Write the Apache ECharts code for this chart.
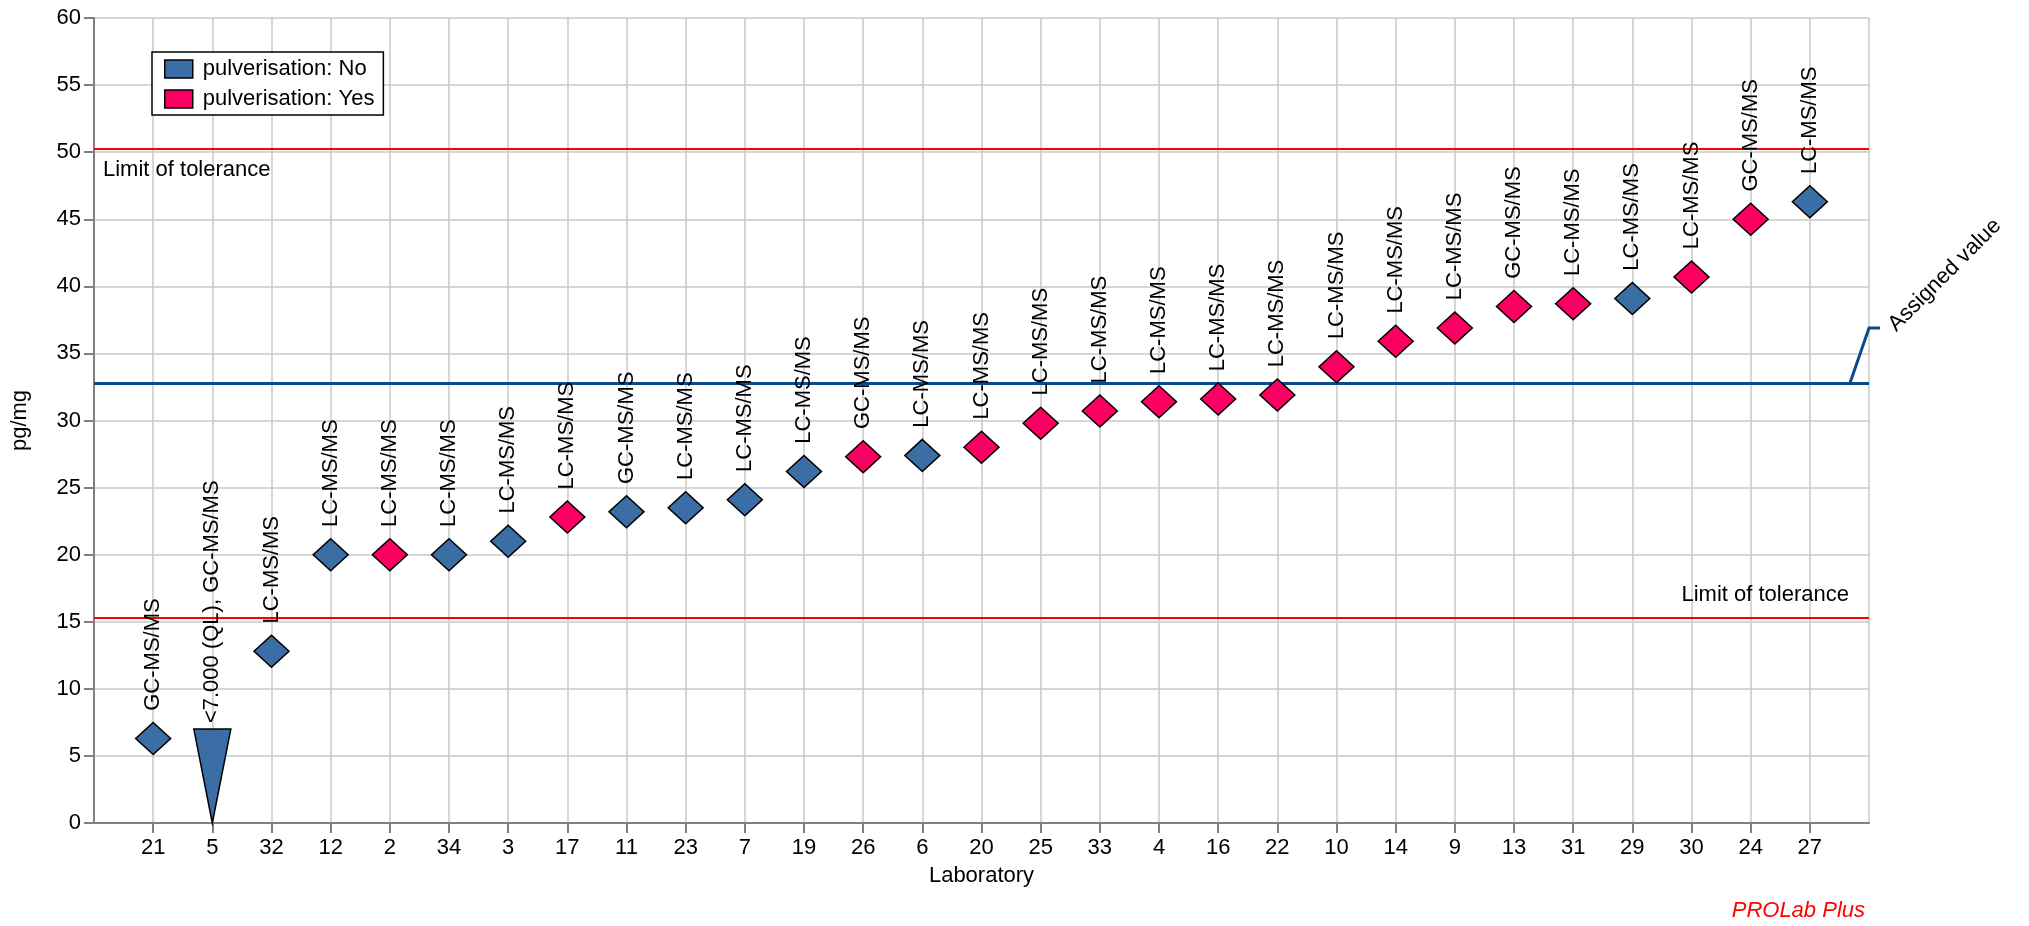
<!DOCTYPE html>
<html>
<head>
<meta charset="utf-8">
<title>Laboratory results</title>
<script src="https://cdn.jsdelivr.net/npm/echarts@6/dist/echarts.min.js"></script>
<style>
  html, body { margin: 0; padding: 0; background: #fff; }
  #chart { width: 2029px; height: 926px; }
</style>
</head>
<body>
<div id="chart"></div>
<script>
// Laboratory codes, in ascending order of result
const labs = ['21', '5', '32', '12', '2', '34', '3', '17', '11', '23', '7', '19', '26', '6', '20',
              '25', '33', '4', '16', '22', '10', '14', '9', '13', '31', '29', '30', '24', '27'];
// Reported results (pg/mg)
const results = [6.3, 7.0, 12.8, 20.0, 20.0, 20.0, 21.0, 22.8, 23.2, 23.5, 24.1, 26.2, 27.3, 27.4, 28.0,
                 29.8, 30.7, 31.4, 31.6, 31.9, 34.0, 35.9, 36.9, 38.5, 38.7, 39.1, 40.7, 45.0, 46.3];
// Analytical method of each laboratory
const methods = ['GC-MS/MS', 'GC-MS/MS', 'LC-MS/MS', 'LC-MS/MS', 'LC-MS/MS', 'LC-MS/MS', 'LC-MS/MS',
                 'LC-MS/MS', 'GC-MS/MS', 'LC-MS/MS', 'LC-MS/MS', 'LC-MS/MS', 'GC-MS/MS', 'LC-MS/MS',
                 'LC-MS/MS', 'LC-MS/MS', 'LC-MS/MS', 'LC-MS/MS', 'LC-MS/MS', 'LC-MS/MS', 'LC-MS/MS',
                 'LC-MS/MS', 'LC-MS/MS', 'GC-MS/MS', 'LC-MS/MS', 'LC-MS/MS', 'LC-MS/MS', 'GC-MS/MS',
                 'LC-MS/MS'];
// Sample pulverisation
const pulverisation = ['No', 'No', 'No', 'No', 'Yes', 'No', 'No', 'Yes', 'No', 'No', 'No', 'No', 'Yes', 'No',
                       'Yes', 'Yes', 'Yes', 'Yes', 'Yes', 'Yes', 'Yes', 'Yes', 'Yes', 'Yes', 'Yes', 'No',
                       'Yes', 'Yes', 'No'];
// Laboratories reporting below their quantification limit (result = QL)
const belowQL = ['5'];

const assignedValue = 32.8;
const upperLimit = 50.25;
const lowerLimit = 15.3;
const yTicks = { min: 0, max: 60, interval: 5 };

const BLUE = '#3b6ea5';
const PINK = '#fb0062';
const FONT = '"Liberation Sans", Arial, sans-serif';
const FS = 22;

// Category axis: one empty slot on each side of the laboratories
const xCategories = [''].concat(labs, [' ']);

function pointsFor(group) {
  const out = [];
  labs.forEach((lab, i) => {
    if (pulverisation[i] !== group || belowQL.includes(lab)) return;
    out.push({ value: [lab, results[i]], method: methods[i] });
  });
  return out;
}

const qlPoints = [];
labs.forEach((lab, i) => {
  if (belowQL.includes(lab)) {
    qlPoints.push({ value: [lab, results[i]],
      text: '<' + results[i].toFixed(3) + ' (QL), ' + methods[i] });
  }
});

const pointLabel = {
  show: true,
  position: 'top',
  rotate: 90,
  align: 'left',
  verticalAlign: 'middle',
  distance: 11,
  color: '#000',
  fontSize: FS,
  fontFamily: FONT,
  formatter: p => p.data.method
};

const markerStyle = c => ({ color: c, borderColor: '#000', borderWidth: 1.5, opacity: 1 });

const chart = echarts.init(document.getElementById('chart'), null, { renderer: 'canvas' });

chart.setOption({
  animation: false,
  backgroundColor: '#fff',
  textStyle: { fontFamily: FONT },
  grid: { left: 94, right: 160, top: 18, bottom: 103, containLabel: false },
  legend: {
    orient: 'vertical',
    left: 152,
    top: 52,
    padding: [6, 9, 5, 12],
    itemGap: 8,
    itemWidth: 28,
    itemHeight: 18,
    icon: 'rect',
    backgroundColor: '#fff',
    borderColor: '#000',
    borderWidth: 1.5,
    borderRadius: 0,
    textStyle: { color: '#000', fontSize: FS, fontFamily: FONT, padding: [0, 0, 0, 5] },
    itemStyle: { borderColor: '#000', borderWidth: 1.5 },
    data: [
      { name: 'pulverisation: No', itemStyle: { color: BLUE } },
      { name: 'pulverisation: Yes', itemStyle: { color: PINK } }
    ]
  },
  xAxis: {
    type: 'category',
    data: xCategories,
    boundaryGap: false,
    name: 'Laboratory',
    nameLocation: 'middle',
    nameGap: 42,
    nameTextStyle: { color: '#000', fontSize: FS, fontFamily: FONT },
    axisLine: { lineStyle: { color: '#808080', width: 2 } },
    axisTick: {
      show: true, length: 10,
      interval: (i, v) => v.trim() !== '',
      lineStyle: { color: '#808080', width: 2 }
    },
    axisLabel: { interval: 0, margin: 14, color: '#000', fontSize: FS, fontFamily: FONT },
    splitLine: { show: true, interval: 0, lineStyle: { color: '#c8c8c8', width: 1.5 } }
  },
  yAxis: {
    type: 'value',
    min: yTicks.min,
    max: yTicks.max,
    interval: yTicks.interval,
    name: 'pg/mg',
    nameLocation: 'middle',
    nameGap: 63,
    nameTextStyle: { color: '#000', fontSize: FS, fontFamily: FONT },
    axisLine: { show: true, lineStyle: { color: '#808080', width: 2 } },
    axisTick: { show: true, length: 10, lineStyle: { color: '#808080', width: 2 } },
    axisLabel: { margin: 13, color: '#000', fontSize: FS, fontFamily: FONT },
    splitLine: { show: true, lineStyle: { color: '#c8c8c8', width: 1.5 } }
  },
  series: [
    {
      name: 'pulverisation: No',
      type: 'scatter',
      symbol: 'diamond',
      symbolSize: [35, 32],
      itemStyle: markerStyle(BLUE),
      label: pointLabel,
      z: 5,
      data: pointsFor('No'),
      markLine: {
        silent: true,
        symbol: 'none',
        animation: false,
        data: [
          {
            yAxis: upperLimit,
            lineStyle: { color: '#ff0000', width: 2, type: 'solid' },
            label: { show: true, position: 'insideStartBottom', distance: [9, 10],
                     formatter: 'Limit of tolerance', color: '#000', fontSize: FS, fontFamily: FONT }
          },
          {
            yAxis: lowerLimit,
            lineStyle: { color: '#ff0000', width: 2, type: 'solid' },
            label: { show: true, position: 'insideEndTop', distance: [20, 12],
                     formatter: 'Limit of tolerance', color: '#000', fontSize: FS, fontFamily: FONT }
          },
          {
            yAxis: assignedValue,
            lineStyle: { color: '#0b4a8b', width: 3, type: 'solid' },
            label: { show: false }
          }
        ]
      }
    },
    {
      name: 'pulverisation: Yes',
      type: 'scatter',
      symbol: 'diamond',
      symbolSize: [35, 32],
      itemStyle: markerStyle(PINK),
      label: pointLabel,
      z: 5,
      data: pointsFor('Yes')
    },
    {
      // results below the quantification limit: wedge from QL down to zero
      name: 'pulverisation: No',
      type: 'custom',
      z: 5,
      encode: { x: 0, y: 1 },
      data: qlPoints,
      renderItem: (params, api) => {
        const top = api.coord([api.value(0), api.value(1)]);
        const bottom = api.coord([api.value(0), 0]);
        const half = 18.5;
        return {
          type: 'group',
          children: [
            {
              type: 'polygon',
              shape: { points: [[top[0] - half, top[1]], [top[0] + half, top[1]], [bottom[0], bottom[1]]] },
              style: { fill: BLUE, stroke: '#000', lineWidth: 1.5 }
            },
            {
              type: 'text',
              x: top[0],
              y: top[1] - 6,
              rotation: Math.PI / 2,
              style: {
                text: qlPoints[params.dataIndex].text,
                fill: '#000',
                fontSize: FS,
                fontFamily: FONT,
                align: 'left',
                verticalAlign: 'middle'
              }
            }
          ]
        };
      }
    }
  ]
});

// Leader and caption for the assigned value line, plus footer
const yAssigned = chart.convertToPixel({ yAxisIndex: 0 }, assignedValue);
const xRight = chart.getWidth() - 160;
chart.setOption({
  graphic: [
    {
      type: 'polyline',
      silent: true,
      z: 10,
      shape: { points: [[xRight - 19, yAssigned], [xRight, yAssigned - 55], [xRight + 11, yAssigned - 55]] },
      style: { stroke: '#0b4a8b', lineWidth: 3, fill: null }
    },
    {
      type: 'text',
      silent: true,
      z: 10,
      x: xRight + 23,
      y: yAssigned - 55,
      rotation: Math.PI / 4,
      style: { text: 'Assigned value', fill: '#000', fontSize: FS, fontFamily: FONT,
               align: 'left', verticalAlign: 'middle' }
    },
    {
      type: 'text',
      silent: true,
      right: 164,
      bottom: 4,
      style: { text: 'PROLab Plus', fill: '#ff0000', fontSize: FS, fontStyle: 'italic', fontFamily: FONT }
    }
  ]
});
</script>
</body>
</html>
